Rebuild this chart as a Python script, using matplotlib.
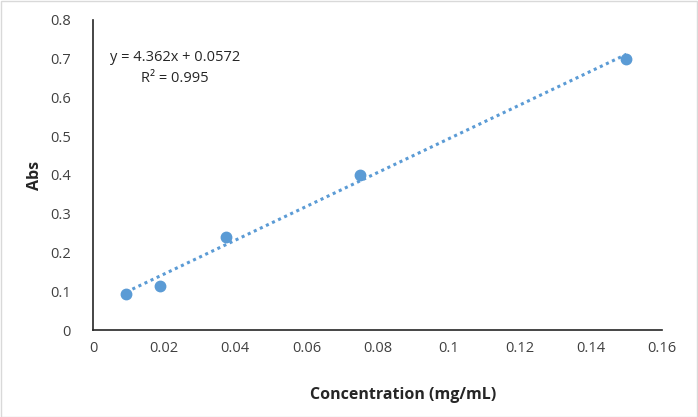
import numpy as np
import matplotlib
matplotlib.use("Agg")
import matplotlib.pyplot as plt
from matplotlib.patches import Rectangle

conc = [0.009375, 0.01875, 0.0375, 0.075, 0.15]
absorb = [0.093, 0.1135, 0.239, 0.399, 0.700]
slope = 4.362
intercept = 0.0572
eq_label = "y = 4.362x + 0.0572"
r2_label = "R² = 0.995"
xticks = [0, 0.02, 0.04, 0.06, 0.08, 0.1, 0.12, 0.14, 0.16]
xticklabels = ["0", "0.02", "0.04", "0.06", "0.08", "0.1", "0.12", "0.14", "0.16"]
yticks = [0, 0.1, 0.2, 0.3, 0.4, 0.5, 0.6, 0.7, 0.8]
yticklabels = ["0", "0.1", "0.2", "0.3", "0.4", "0.5", "0.6", "0.7", "0.8"]

plt.rcParams['font.family'] = ['Open Sans', 'DejaVu Sans']

fig = plt.figure(figsize=(6.98, 4.17), dpi=100)
ax = fig.add_axes([93/698, 1-330/417, (662-93)/698, (330-20)/417])

blue = "#5B9BD5"
fx = np.array([min(conc), max(conc)])
ax.plot(fx, slope*fx + intercept, linestyle=(0, (1, 1.2)), color=blue, lw=2.2, zorder=2)
ax.plot(conc, absorb, 'o', color=blue, markersize=7.5, zorder=3)

ax.set_xlim(0, 0.16)
ax.set_ylim(0, 0.8)
ax.set_xticks(xticks)
ax.set_xticklabels(xticklabels)
ax.set_yticks(yticks)
ax.set_yticklabels(yticklabels)
ax.tick_params(length=0, labelsize=10.5, colors="#404040", pad=8)
ax.tick_params(axis='y', pad=16)
for s in ['top', 'right']:
    ax.spines[s].set_visible(False)
for s in ['left', 'bottom']:
    ax.spines[s].set_color("#262626")
    ax.spines[s].set_linewidth(1.2)

ax.set_xlabel("Concentration (mg/mL)", fontsize=11.5, fontweight='bold', color="#262626")
ax.xaxis.set_label_coords((403-93)/569, -(395-330)/310)
ax.xaxis.label.set_va('center')
ax.set_ylabel("Abs", fontsize=11.5, fontweight='bold', color="#262626")
ax.yaxis.set_label_coords(-(93-35)/569, 0.5)
ax.yaxis.label.set_va('center')

ax.text(0.0231, 0.702, eq_label, fontsize=10.5, color="#262626", ha='center', va='center')
ax.text(0.0231, 0.650, r2_label, fontsize=10.5, color="#262626", ha='center', va='center')

fig.patches.append(Rectangle((0.001, 0.001), 0.998, 0.997, transform=fig.transFigure,
                             fill=False, edgecolor="#D9D9D9", lw=1))

fig.savefig("out.png", dpi=100)
